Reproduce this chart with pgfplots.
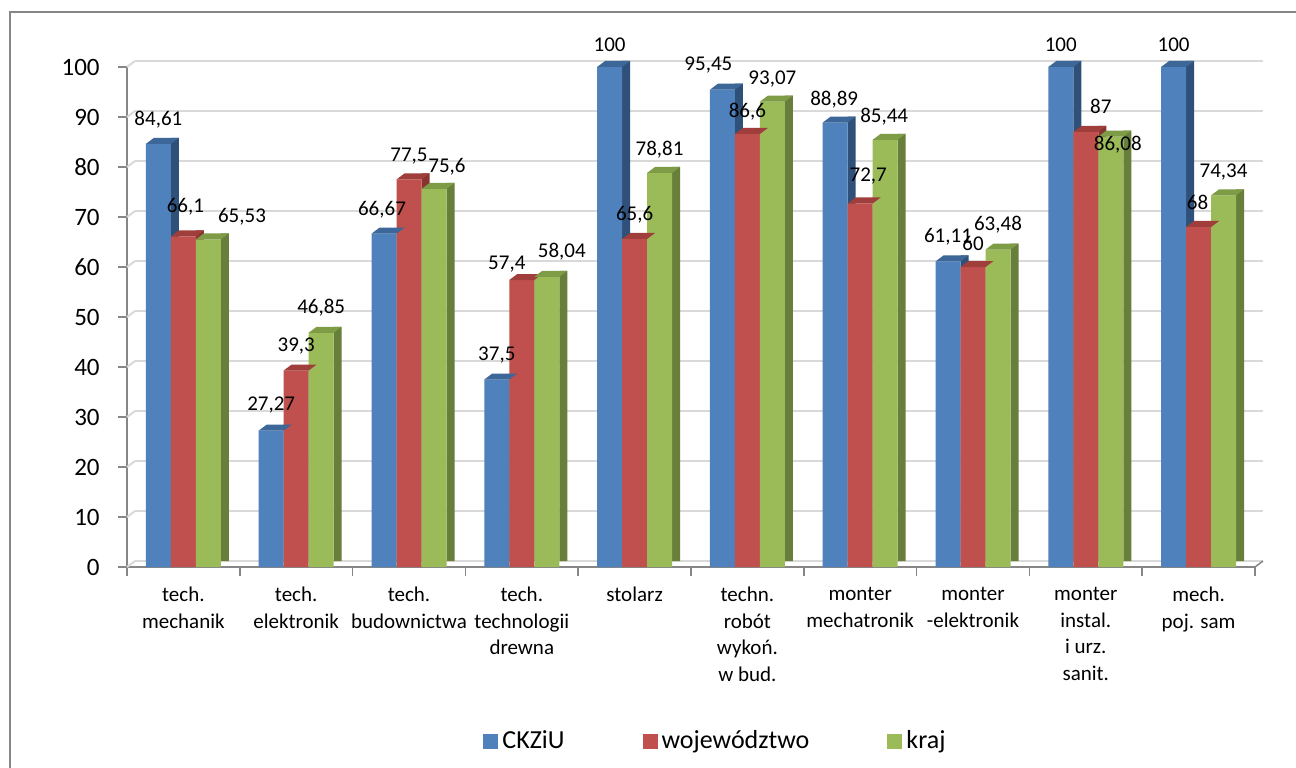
\documentclass[border=0pt]{standalone}
\usepackage{fontspec}
\setmainfont{Carlito}
\usepackage{pgfplots}
\pgfplotsset{compat=1.18}
\usepackage{pgfplotstable}

\definecolor{cb}{HTML}{4F81BD}
\definecolor{cbT}{HTML}{3D6699}
\definecolor{cbS}{HTML}{2F5079}
\definecolor{cr}{HTML}{C0504D}
\definecolor{crT}{HTML}{A03E3B}
\definecolor{crS}{HTML}{8A3431}
\definecolor{cg}{HTML}{9BBB59}
\definecolor{cgT}{HTML}{7E9B45}
\definecolor{cgS}{HTML}{687F3B}
\definecolor{gridc}{HTML}{D9D9D9}
\definecolor{axisc}{HTML}{868686}

\pgfdeclareplotmark{topA}{%
 \pgfpathmoveto{\pgfqpoint{-18.75pt}{0pt}}%
 \pgfpathlineto{\pgfqpoint{-6.25pt}{0pt}}%
 \pgfpathlineto{\pgfqpoint{-2.25pt}{3pt}}%
 \pgfpathlineto{\pgfqpoint{-14.75pt}{3pt}}%
 \pgfpathclose\pgfusepathqfill}
\pgfdeclareplotmark{topB}{%
 \pgfpathmoveto{\pgfqpoint{-6.25pt}{0pt}}%
 \pgfpathlineto{\pgfqpoint{6.25pt}{0pt}}%
 \pgfpathlineto{\pgfqpoint{10.25pt}{3pt}}%
 \pgfpathlineto{\pgfqpoint{-2.25pt}{3pt}}%
 \pgfpathclose\pgfusepathqfill}
\pgfdeclareplotmark{topC}{%
 \pgfpathmoveto{\pgfqpoint{6.25pt}{0pt}}%
 \pgfpathlineto{\pgfqpoint{18.75pt}{0pt}}%
 \pgfpathlineto{\pgfqpoint{22.75pt}{3pt}}%
 \pgfpathlineto{\pgfqpoint{10.25pt}{3pt}}%
 \pgfpathclose\pgfusepathqfill}

% x = category, y = value, lab = data label, dx/dy = label offset (pt, halved below)
\pgfplotstableread{
x y lab dx dy
0 84.61 84,61 -25 24
1 27.27 27,27 -25 26
2 66.67 66,67 -27 24
3 37.5 37,5 -25 24.5
4 100 100 -25 22
5 95.45 95,45 -39 25
6 88.89 88,89 -26 22.5
7 61.11 61,11 -25 24.5
8 100 100 -25 22
9 100 100 -25 22
}\tblA
\pgfplotstableread{
x y lab dx dy
0 66.1 66,1 2 29.5
1 39.3 39,3 0 24.5
2 77.5 77,5 0 23.5
3 57.4 57,4 -15 16
4 65.6 65,6 0 24
5 86.6 86,6 0 22
6 72.7 72,7 8 27.5
7 60 60 0 24
8 87 87 15 26
9 68 68 -1 25
}\tblB
\pgfplotstableread{
x y lab dx dy
0 65.53 65,53 58.6 23
1 46.85 46,85 25 25
2 75.6 75,6 38 22
3 58.04 58,04 40 25
4 78.81 78,81 25 23
5 93.07 93,07 25 23
6 85.44 85,44 24 23
7 63.48 63,48 25 24.6
8 86.08 86,08 32 -8.4
9 74.34 74,34 25 23
}\tblC

\pgfplotsset{
  sqleg/.style={legend image code/.code={\fill[##1] (0pt,-3.75pt) rectangle (7.5pt,3.75pt);}},
  lbl/.style={draw=none, forget plot, nodes near coords, point meta=explicit symbolic,
    visualization depends on={\thisrow{dx} \as \ldx},
    visualization depends on={\thisrow{dy} \as \ldy},
    every node near coord/.append style={anchor=center, inner sep=0pt, text=black,
      font=\fontsize{10.5}{12.5}\selectfont, xshift={\ldx*0.5pt}, yshift={\ldy*0.5pt}}},
}

\begin{document}
\begin{tikzpicture}
\useasboundingbox (0pt,0pt) rectangle (648pt,383.5pt);
\clip (0pt,0pt) rectangle (648pt,383.5pt);
\fill[white] (0pt,0pt) rectangle (648pt,383.5pt);
\draw[axisc, line width=1pt] (5pt,-10pt) -- (5pt,377.5pt) -- (660pt,377.5pt);
\begin{axis}[
  at={(63.5pt,100pt)}, anchor=south west,
  scale only axis, width=564pt, height=250pt,
  xmin=-0.5, xmax=9.5, ymin=0, ymax=100,
  clip=false,
  axis x line*=bottom, axis y line*=left,
  xtick pos=left, ytick pos=left,
  axis line style={-, draw=axisc, line width=0.75pt},
  tick style={draw=axisc, line width=0.75pt},
  tick align=outside, major tick length=4.5pt,
  ytick={0,10,...,100},
  xtick={-0.5,0.5,...,9.5},
  x tick label as interval,
  xticklabels={{tech.\\mechanik},{tech.\\elektronik},{tech.\\budownictwa},{tech.\\technologii\\drewna},{stolarz},{techn.\\robót\\wykoń.\\w bud.},{monter\\mechatronik},{monter\\-elektronik},{monter\\instal.\\i urz.\\sanit.},{mech.\\poj. sam}},
  xticklabel style={align=center, anchor=north, inner sep=0pt, yshift=-5.5pt, font=\fontsize{10.5}{13.25}\selectfont},
  yticklabel style={anchor=east, inner sep=0pt, xshift=-9pt, font=\fontsize{12.5}{15}\selectfont},
  /pgf/number format/assume math mode=true,
  ymajorgrids,
  major grid style={draw=gridc, line width=1pt, xshift=4pt, yshift=3pt},
  legend columns=3,
  legend style={draw=none, at={(rel axis cs:0.3156,-0.348)}, anchor=west,
    font=\fontsize{13}{15}\selectfont, inner sep=0pt,
    /tikz/every even column/.append style={column sep=37pt}},
]
% side faces
\addplot[ybar, bar width=4pt, bar shift=-4.25pt, yshift=3pt, fill=cbS, draw=none, forget plot] table[x=x,y=y]{\tblA};
\addplot[ybar, bar width=4pt, bar shift=8.25pt, yshift=3pt, fill=crS, draw=none, forget plot] table[x=x,y=y]{\tblB};
\addplot[ybar, bar width=4pt, bar shift=20.75pt, yshift=3pt, fill=cgS, draw=none, forget plot] table[x=x,y=y]{\tblC};
% top faces
\addplot[only marks, mark=topA, mark options={fill=cbT, draw=none}, forget plot] table[x=x,y=y]{\tblA};
\addplot[only marks, mark=topB, mark options={fill=crT, draw=none}, forget plot] table[x=x,y=y]{\tblB};
\addplot[only marks, mark=topC, mark options={fill=cgT, draw=none}, forget plot] table[x=x,y=y]{\tblC};
% front faces
\addplot[ybar, bar width=12.5pt, bar shift=-12.5pt, fill=cb, draw=none, sqleg] table[x=x,y=y]{\tblA};
\addlegendentry{CKZiU}
\addplot[ybar, bar width=12.5pt, bar shift=0pt, fill=cr, draw=none, sqleg] table[x=x,y=y]{\tblB};
\addlegendentry{województwo\hspace{4.5pt}}
\addplot[ybar, bar width=12.5pt, bar shift=12.5pt, fill=cg, draw=none, sqleg] table[x=x,y=y]{\tblC};
\addlegendentry{kraj}
% data labels
\addplot[lbl] table[x=x,y=y,meta=lab]{\tblA};
\addplot[lbl] table[x=x,y=y,meta=lab]{\tblB};
\addplot[lbl] table[x=x,y=y,meta=lab]{\tblC};
% 3D wall/floor connectors
\pgfplotsinvokeforeach{0,10,20,30,40,50,60,70,80,90,100}{
  \draw[gridc, line width=1pt] (axis cs:-0.5,#1) -- ++(4pt,3pt);
}
\draw[axisc, line width=0.75pt] (axis cs:9.5,0) -- ++(4pt,3pt);
\end{axis}
\end{tikzpicture}
\end{document}
